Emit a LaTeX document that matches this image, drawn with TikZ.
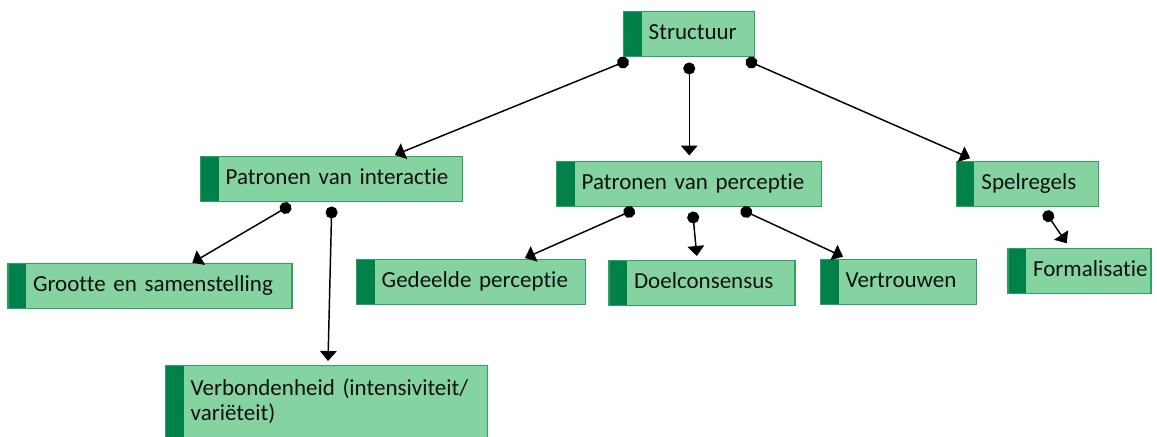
\documentclass[tikz,border=0pt]{standalone}
\usepackage{fontspec}
\setmainfont{Carlito}[Ligatures=NoCommon]
\usetikzlibrary{arrows.meta}
\definecolor{vulling}{HTML}{84D3A0}
\definecolor{balk}{HTML}{00814A}
\definecolor{rand}{HTML}{2FA062}
\definecolor{tekst}{HTML}{111111}
\tikzset{
  vak/.style={draw=rand, fill=vulling, line width=1.1pt, anchor=north west,
    text width=#1, inner xsep=0pt, inner ysep=0pt, align=left, text=tekst,
    font=\fontsize{17.25}{18.75}\selectfont,
    execute at begin node={\leftskip=18.75pt\rightskip=0pt plus 1fil},
    path picture={\fill[balk] (path picture bounding box.north west) rectangle
      ([xshift=13.5pt]path picture bounding box.south west);}},
  regel/.style={vak=#1, minimum height=33.75pt, text height=12pt, text depth=3.75pt},
  pijl/.style={line width=1.1pt, {Circle[length=9pt]}-{Triangle[width=12.5pt,length=7.5pt]}}
}
\begin{document}
\begin{tikzpicture}[x=0.75pt, y=-0.75pt]
\useasboundingbox (0,0) rectangle (1157,436);

\node[regel=98.25pt] (structuur) at (623,11) {Structuur};
\node[regel=196.5pt] (interactie) at (200,156) {Patronen van interactie};
\node[regel=198.75pt] (perceptie) at (556,160.5) {Patronen van perceptie};
\node[regel=106.5pt] (spelregels) at (955.7,160.7) {Spelregels};
\node[regel=213pt] (grootte) at (7.3,262.7) {Grootte en samenstelling};
\node[regel=171.75pt] (gedeeld) at (356,259) {Gedeelde perceptie};
\node[regel=139.5pt] (doel) at (608.3,260) {Doelconsensus};
\node[regel=117pt] (vertrouwen) at (820,259) {Vertrouwen};
\node[regel=107.25pt] (formalisatie) at (1007.3,248) {Formalisatie};
\node[vak=241.5pt, text height=12pt, text depth=40pt, inner ysep=10.5pt] (verbondenheid) at (165,365)
  {Verbondenheid (intensiviteit/\\variëteit)};

\draw[pijl] ([shift={(5.5,2.7)}]structuur.south west) -- ([shift={(63,-1)}]interactie.north);
\draw[pijl] ([shift={(0,5)}]structuur.south) -- ([shift={(0,-5)}]perceptie.north);
\draw[pijl] ([shift={(-9.5,2.6)}]structuur.south east) -- ([shift={(14.5,-2.5)}]spelregels.north west);
\draw[pijl] ([shift={(-41,2.5)}]interactie.south) -- ([shift={(185,0)}]grootte.north west);
\draw[pijl] ([shift={(0,4)}]interactie.south) -- ([shift={(163,-4)}]verbondenheid.north west);
\draw[pijl] ([shift={(-54.6,2.5)}]perceptie.south) -- ([shift={(169,-1)}]gedeeld.north west);
\draw[pijl] ([shift={(3.4,4.5)}]perceptie.south) -- ([shift={(88.5,-4)}]doel.north west);
\draw[pijl] ([shift={(51.6,2.4)}]perceptie.south) -- ([shift={(23,-2.3)}]vertrouwen.north west);
\draw[pijl] ([shift={(17.5,4)}]spelregels.south) -- ([shift={(59.4,-4.7)}]formalisatie.north west);
\end{tikzpicture}
\end{document}
